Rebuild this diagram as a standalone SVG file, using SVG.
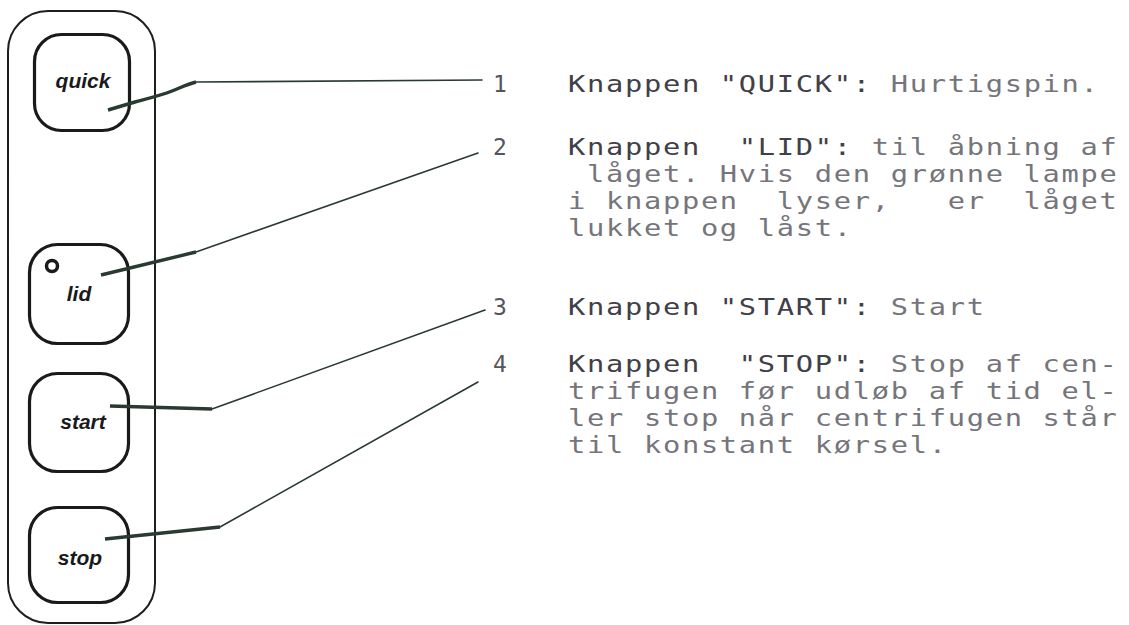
<svg xmlns="http://www.w3.org/2000/svg" width="1129" height="625" viewBox="0 0 1129 625">
<style>
.panel{fill:none;stroke:#1e1e1e;stroke-width:2}
.btn{fill:#fff;stroke:#1a1a1a;stroke-width:3.2}
.blabel{font-family:"Liberation Sans",Arial,sans-serif;font-weight:bold;font-style:italic;font-size:21px;fill:#1a1a1a;text-anchor:middle}
.lead{fill:none;stroke:#2b3a31;stroke-width:1.6;stroke-linecap:round;stroke-linejoin:round}
.leadthick{fill:none;stroke:#2b3a31;stroke-width:3.4;stroke-linecap:butt;stroke-linejoin:round}
.num{font-family:"DejaVu Sans Mono",monospace;font-size:23px;fill:#55555c;text-anchor:middle}
.desc{font-family:"DejaVu Sans Mono",monospace;font-size:23px;letter-spacing:1.35px;fill:#75757b}
.key{fill:#404048}
</style>
<rect class="panel" x="8" y="11" width="147" height="612" rx="40" ry="40"/>
<g id="btn-quick">
<rect class="btn" x="34.5" y="34.5" width="95" height="96" rx="27" ry="27"/>
<text class="blabel" x="83" y="88">quick</text>
</g>
<g id="btn-lid">
<rect class="btn" x="29.5" y="244.5" width="99" height="99" rx="28" ry="28"/>
<circle cx="52" cy="266" r="5.5" fill="none" stroke="#1a1a1a" stroke-width="3.5"/>
<text class="blabel" x="79" y="301">lid</text>
</g>
<g id="btn-start">
<rect class="btn" x="29.5" y="373.5" width="99" height="98" rx="28" ry="28"/>
<text class="blabel" x="83" y="429">start</text>
</g>
<g id="btn-stop">
<rect class="btn" x="29.5" y="507.5" width="99" height="95" rx="28" ry="28"/>
<text class="blabel" x="80" y="565">stop</text>
</g>
<g id="connectors">
<path class="leadthick" d="M108,110 L135,102 C150,98 162,95 172,91 C182,87 188,84 196,82"/>
<path class="lead" d="M196,82 L482,80"/>
<path class="leadthick" d="M101,275 L196,252"/>
<path class="lead" d="M196,252 L478,153"/>
<path class="leadthick" d="M110,406 L212,409"/>
<path class="lead" d="M212,409 L485,310"/>
<path class="leadthick" d="M105,539 L220,527"/>
<path class="lead" d="M220,527 L478,382"/>
</g>
<g id="numbers">
<text class="num" x="500" y="92">1</text>
<text class="num" x="500" y="155">2</text>
<text class="num" x="500" y="315">3</text>
<text class="num" x="500" y="372">4</text>
</g>
<g id="item1">
<text class="desc" transform="translate(568,92) scale(1.25,1)" xml:space="preserve"><tspan class="key">Knappen "QUICK":</tspan> Hurtigspin.</text>
</g>
<g id="item2">
<text class="desc" transform="translate(568,155) scale(1.25,1)" xml:space="preserve"><tspan class="key">Knappen  "LID":</tspan> til åbning af</text>
<text class="desc" transform="translate(568,182) scale(1.25,1)" xml:space="preserve"> låget. Hvis den grønne lampe</text>
<text class="desc" transform="translate(568,209) scale(1.25,1)" xml:space="preserve">i knappen  lyser,   er  låget</text>
<text class="desc" transform="translate(568,236) scale(1.25,1)" xml:space="preserve">lukket og låst.</text>
</g>
<g id="item3">
<text class="desc" transform="translate(568,315) scale(1.25,1)" xml:space="preserve"><tspan class="key">Knappen "START":</tspan> Start</text>
</g>
<g id="item4">
<text class="desc" transform="translate(568,372) scale(1.25,1)" xml:space="preserve"><tspan class="key">Knappen  "STOP":</tspan> Stop af cen-</text>
<text class="desc" transform="translate(568,399) scale(1.25,1)" xml:space="preserve">trifugen før udløb af tid el-</text>
<text class="desc" transform="translate(568,426) scale(1.25,1)" xml:space="preserve">ler stop når centrifugen står</text>
<text class="desc" transform="translate(568,453) scale(1.25,1)" xml:space="preserve">til konstant kørsel.</text>
</g>
</svg>
